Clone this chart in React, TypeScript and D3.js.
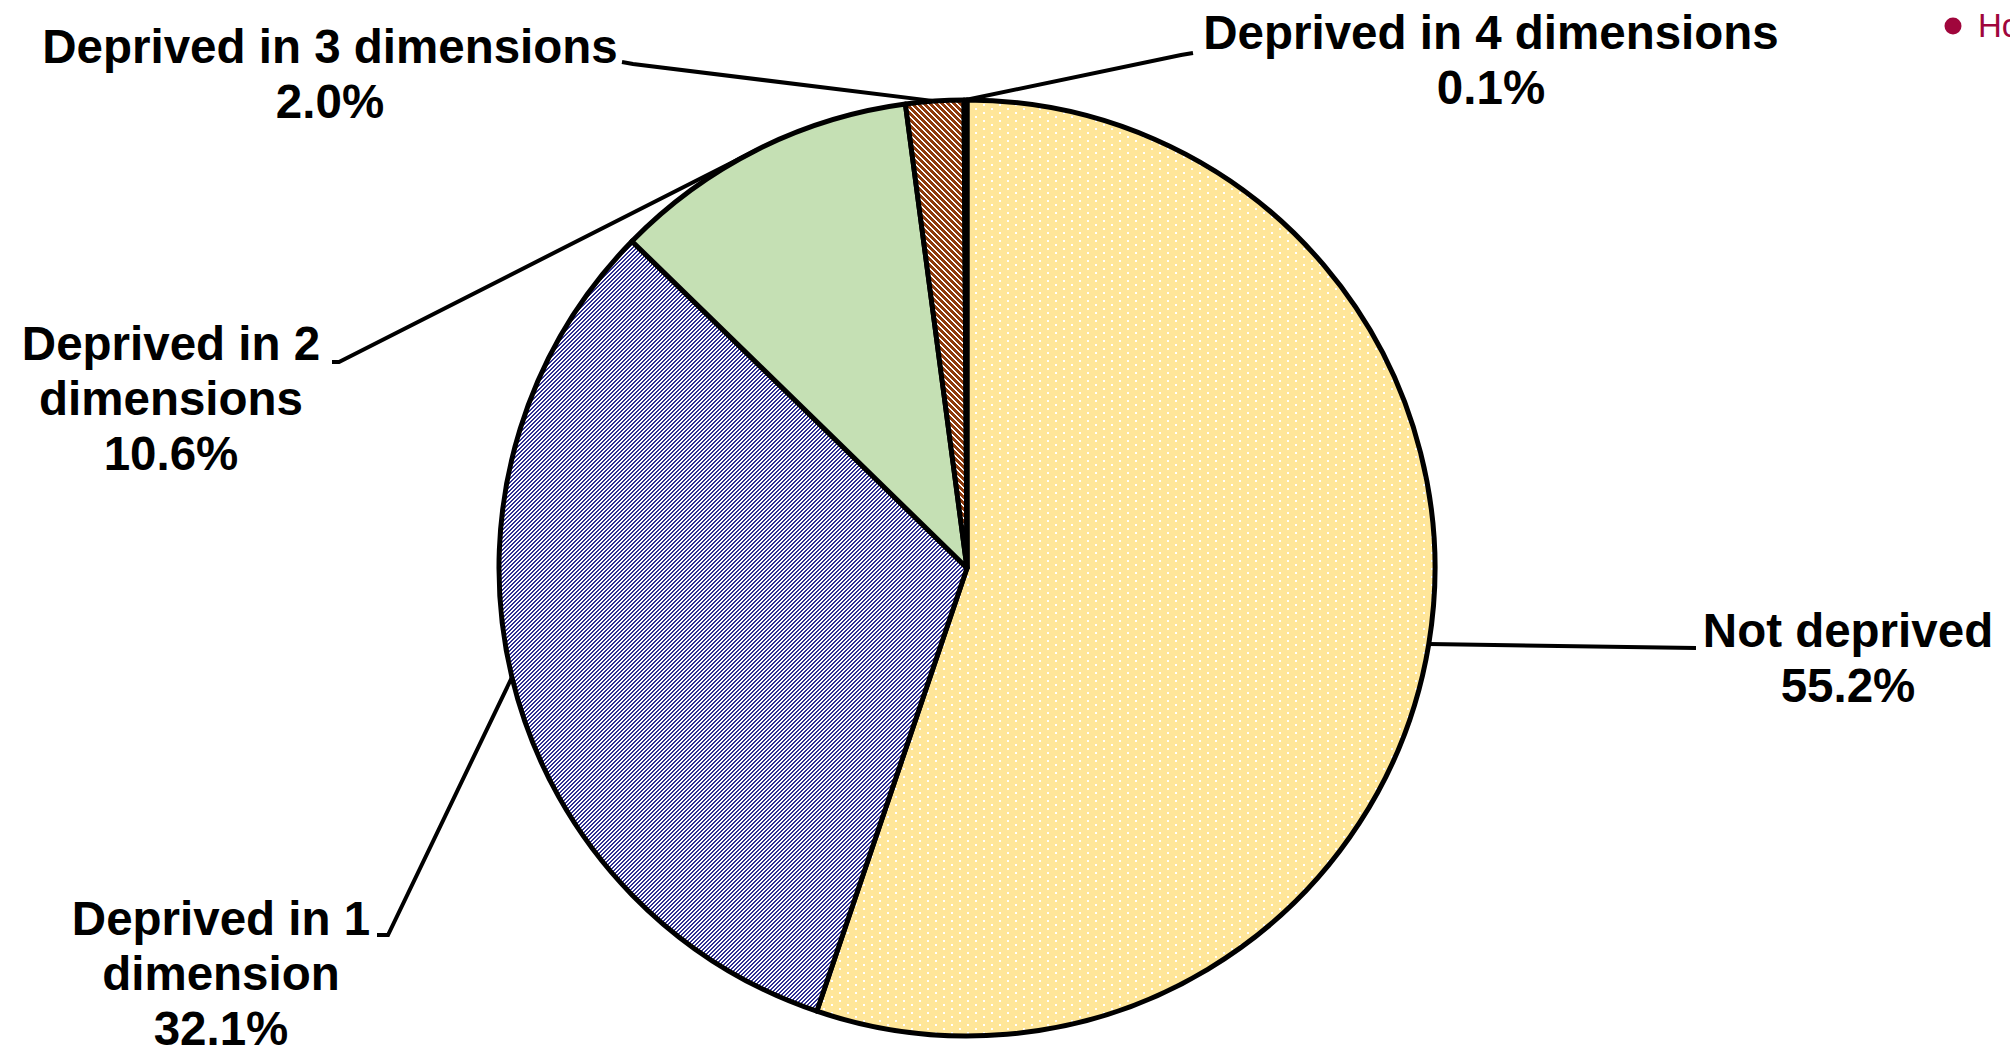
import React from "react";
import * as d3 from "d3";

const categories = [
  "Not deprived",
  "Deprived in 1 dimension",
  "Deprived in 2 dimensions",
  "Deprived in 3 dimensions",
  "Deprived in 4 dimensions",
];
const values = [55.2, 32.1, 10.6, 2.0, 0.1];
const labelLines = [
  ["Not deprived"],
  ["Deprived in 1", "dimension"],
  ["Deprived in 2", "dimensions"],
  ["Deprived in 3 dimensions"],
  ["Deprived in 4 dimensions"],
];
const legendText = "Ho";

const W = 2010;
const H = 1052;
const CX = 967;
const CY = 568;
const R = 468;
const FONT = 47.5;
const LH = 55;

// label layout: center x, first baseline y, leader anchor points (label side)
const labelLayout = [
  { x: 1848, y: 647, leader: [[1696, 648]] },
  { x: 221, y: 935, leader: [[377, 935], [388, 935]] },
  { x: 171, y: 360, leader: [[332, 362], [339, 362]] },
  { x: 330, y: 63, leader: [[622, 62], [633, 64]] },
  { x: 1491, y: 49, leader: [[1193, 53], [1181, 55]] },
];

const fills = ["url(#patYellow)", "url(#patBlue)", "#C5E0B4", "url(#patBrown)", "#FFFFFF"];

function stripeRects(size: number, dark: number, dir: "/" | "\\", color: string) {
  const rects: React.ReactElement[] = [];
  for (let y = 0; y < size; y++) {
    for (let x = 0; x < size; x++) {
      const k = dir === "/" ? (x + y) % size : (((x - y) % size) + size) % size;
      if (k < dark) rects.push(<rect key={`${x}-${y}`} x={x} y={y} width={1} height={1} fill={color} />);
    }
  }
  return rects;
}

export default function App() {
  const pie = d3
    .pie<number>()
    .sort(null)
    .startAngle(0)
    .endAngle(2 * Math.PI)
    .value((d) => d);
  const arcs = pie(values);
  const arcGen = d3.arc<d3.PieArcDatum<number>>().innerRadius(0).outerRadius(R);
  const edgeArc = d3.arc<d3.PieArcDatum<number>>().innerRadius(R).outerRadius(R);
  const line = d3.line();

  return (
    <svg
      width={W}
      height={H}
      style={{ position: "absolute", left: 0, top: 0, background: "#fff" }}
      fontFamily="'Liberation Sans', Arial, sans-serif"
    >
      <defs>
        <pattern id="patYellow" patternUnits="userSpaceOnUse" width={16} height={8}>
          <rect x={0} y={0} width={16} height={8} fill="#FFE699" />
          <rect x={0} y={0} width={2} height={2} fill="#FFFFFF" />
          <rect x={8} y={4} width={2} height={2} fill="#FFFFFF" />
        </pattern>
        <pattern id="patBlue" patternUnits="userSpaceOnUse" width={4} height={4}>
          <rect x={0} y={0} width={4} height={4} fill="#FFFFFF" />
          {stripeRects(4, 2, "/", "#2F2F93")}
        </pattern>
        <pattern id="patBrown" patternUnits="userSpaceOnUse" width={6} height={6}>
          <rect x={0} y={0} width={6} height={6} fill="#FFFFFF" />
          {stripeRects(6, 4, "\\", "#8E3A0C")}
        </pattern>
      </defs>
      <rect x={0} y={0} width={W} height={H} fill="#fff" />

      <g transform={`translate(${CX},${CY})`}>
        {arcs.map((a, i) => (
          <path
            key={categories[i]}
            d={arcGen(a) || ""}
            fill={fills[i]}
            stroke="#000"
            strokeWidth={5}
            strokeLinejoin="round"
          />
        ))}
      </g>

      {arcs.map((a, i) => {
        const [mx, my] = edgeArc.centroid(a);
        const pts = [...labelLayout[i].leader, [CX + mx, CY + my]] as [number, number][];
        return (
          <path key={`l-${i}`} d={line(pts) || ""} fill="none" stroke="#000" strokeWidth={4} />
        );
      })}

      {arcs.map((a, i) => {
        const lay = labelLayout[i];
        const lines = [...labelLines[i], `${values[i].toFixed(1)}%`];
        return (
          <text
            key={`t-${i}`}
            x={lay.x}
            y={lay.y}
            textAnchor="middle"
            fontWeight="bold"
            fontSize={FONT}
            fill="#000"
          >
            {lines.map((s, j) => (
              <tspan key={j} x={lay.x} y={lay.y + j * LH}>
                {s}
              </tspan>
            ))}
          </text>
        );
      })}

      <circle cx={1953} cy={26} r={8.5} fill="#A0063C" />
      <text x={1978} y={37} fontSize={33} fill="#A0063C">
        {legendText}
      </text>
    </svg>
  );
}
